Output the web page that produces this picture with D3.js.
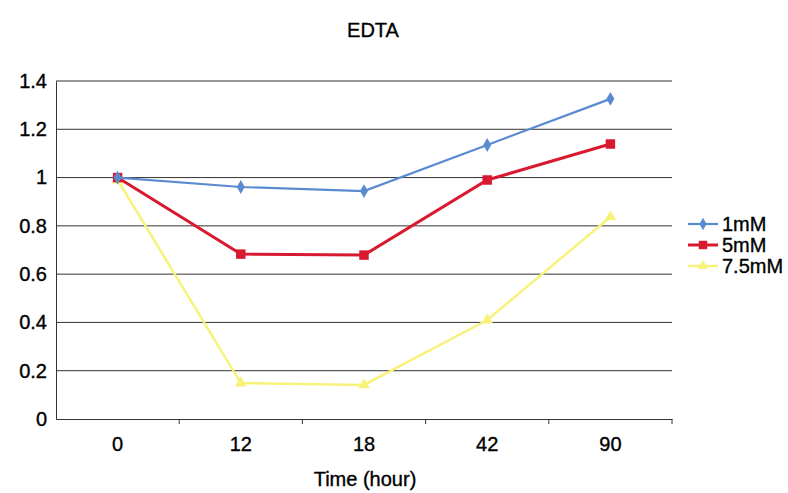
<!DOCTYPE html>
<html>
<head>
<meta charset="utf-8">
<script src="https://cdn.jsdelivr.net/npm/d3@7"></script>
<style>
  body { margin: 0; background: #fff; }
  svg { font-family: "Liberation Sans", Arial, sans-serif; }
  text { stroke: #000; stroke-width: 0.35px; fill: #000; }
</style>
</head>
<body>
<svg id="chart"></svg>
<script>
// Data
const hours = ["0", "12", "18", "42", "90"];
const series1mM = [1.0, 0.961, 0.944, 1.135, 1.326];
const series5mM = [1.0, 0.683, 0.679, 0.99, 1.139];
const series75mM = [0.99, 0.149, 0.141, 0.41, 0.837];
const seriesNames = ["1mM", "5mM", "7.5mM"];
const yTicks = [0, 0.2, 0.4, 0.6, 0.8, 1, 1.2, 1.4];

const width = 788, height = 493;
const margin = { top: 81, right: 116, bottom: 74, left: 56 };

const svg = d3.select("#chart").attr("width", width).attr("height", height);

const x = d3.scaleBand().domain(hours).range([margin.left, width - margin.right]);
const y = d3.scaleLinear().domain([0, 1.4]).range([height - margin.bottom, margin.top]);

// Gridlines
svg.append("g")
    .selectAll("line")
    .data(yTicks.slice(1))
    .enter()
    .append("line")
    .attr("x1", margin.left)
    .attr("x2", width - margin.right)
    .attr("y1", d => y(d))
    .attr("y2", d => y(d))
    .attr("stroke", "#333")
    .attr("stroke-width", 1);

// Y axis
const yAxis = svg.append("g")
    .attr("transform", `translate(${margin.left},0)`)
    .call(d3.axisLeft(y).tickValues(yTicks).tickFormat(d => d).tickSize(0).tickPadding(9));
yAxis.select(".domain").attr("stroke", "#333");
yAxis.selectAll("text").attr("font-size", 20);

// X axis
const xAxis = svg.append("g")
    .attr("transform", `translate(0,${y(0)})`)
    .call(d3.axisBottom(x).tickSize(0).tickPadding(18));
xAxis.select(".domain").attr("stroke", "#333");
xAxis.selectAll("text").attr("font-size", 20);

// Tick marks between categories
svg.append("g")
    .selectAll("line")
    .data(hours)
    .enter()
    .append("line")
    .attr("x1", d => x(d) + x.bandwidth())
    .attr("x2", d => x(d) + x.bandwidth())
    .attr("y1", y(0))
    .attr("y2", y(0) + 5)
    .attr("stroke", "#333");

// Title and axis label
svg.append("text")
    .attr("x", 373).attr("y", 37)
    .attr("text-anchor", "middle")
    .attr("font-size", 20)
    .text("EDTA");

svg.append("text")
    .attr("x", 365).attr("y", 486)
    .attr("text-anchor", "middle")
    .attr("font-size", 20)
    .text("Time (hour)");

// Series
const series = [
    { name: seriesNames[0], values: series1mM, color: "#5a8ad0", width: 2.2, symbol: d3.symbolDiamond, size: 55 },
    { name: seriesNames[1], values: series5mM, color: "#d81a30", width: 3, symbol: d3.symbolSquare, size: 90 },
    { name: seriesNames[2], values: series75mM, color: "#f7f37a", width: 2.5, symbol: d3.symbolTriangle, size: 60 }
];

const line = d3.line()
    .x((d, i) => x(hours[i]) + x.bandwidth() / 2)
    .y(d => y(d));

// draw in reverse so 1mM is on top
series.slice().reverse().forEach(s => {
    svg.append("path")
        .datum(s.values)
        .attr("d", line)
        .attr("fill", "none")
        .attr("stroke", s.color)
        .attr("stroke-width", s.width);

    svg.selectAll(".pt-" + s.name.replace(".", ""))
        .data(s.values)
        .enter()
        .append("path")
        .attr("class", "pt-" + s.name.replace(".", ""))
        .attr("transform", (d, i) => `translate(${x(hours[i]) + x.bandwidth() / 2},${y(d)})`)
        .attr("d", d3.symbol().type(s.symbol).size(s.size))
        .attr("fill", s.color);
});

// Legend
const legend = svg.append("g").attr("transform", "translate(688,224)");
series.forEach((s, i) => {
    const g = legend.append("g").attr("transform", `translate(0,${i * 21})`);
    g.append("line")
        .attr("x1", 0).attr("x2", 30)
        .attr("stroke", s.color).attr("stroke-width", s.width);
    g.append("path")
        .attr("transform", "translate(15,0)")
        .attr("d", d3.symbol().type(s.symbol).size(s.size * 0.8))
        .attr("fill", s.color);
    g.append("text")
        .attr("x", 34).attr("y", 7)
        .attr("font-size", 20)
        .text(s.name);
});
</script>
</body>
</html>
